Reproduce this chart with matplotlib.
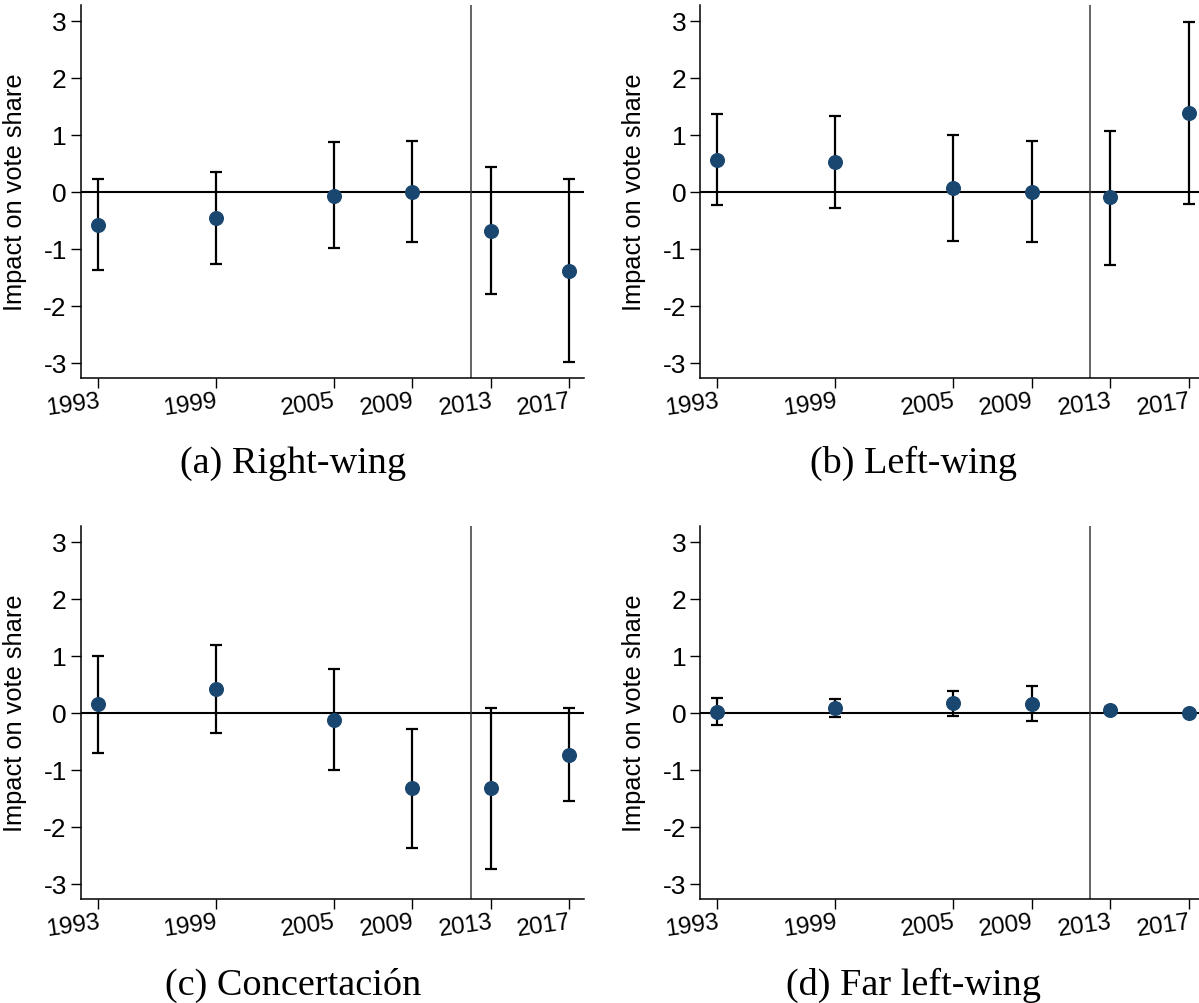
import matplotlib
matplotlib.use("Agg")
import matplotlib.pyplot as plt

plt.rcParams['font.family'] = ['Liberation Sans', 'DejaVu Sans']
plt.rcParams['axes.unicode_minus'] = False

years = [1993, 1999, 2005, 2009, 2013, 2017]
cutoff_year = 2012

# point estimates and 95% CI bounds
right_est = [-0.58, -0.46, -0.07, 0.00, -0.68, -1.39]
right_lo = [-1.37, -1.27, -0.99, -0.89, -1.79, -2.99]
right_hi = [0.23, 0.35, 0.88, 0.89, 0.43, 0.22]

left_est = [0.56, 0.52, 0.06, 0.00, -0.10, 1.38]
left_lo = [-0.24, -0.28, -0.87, -0.89, -1.28, -0.21]
left_hi = [1.37, 1.33, 0.99, 0.89, 1.07, 2.98]

conc_est = [0.15, 0.42, -0.12, -1.32, -1.32, -0.73]
conc_lo = [-0.71, -0.35, -1.01, -2.37, -2.74, -1.55]
conc_hi = [1.00, 1.19, 0.77, -0.28, 0.09, 0.09]

farleft_est = [0.02, 0.08, 0.18, 0.16, 0.06, 0.00]
farleft_lo = [-0.22, -0.07, -0.05, -0.15, 0.02, -0.01]
farleft_hi = [0.26, 0.24, 0.39, 0.48, 0.11, 0.01]

captions = ["(a) Right-wing", "(b) Left-wing", "(c) Concertación", "(d) Far left-wing"]
yticks = [-3, -2, -1, 0, 1, 2, 3]
ylabel = "Impact on vote share"

W, H = 1199, 1004
fig = plt.figure(figsize=(W / 100, H / 100), dpi=100)

# panel boxes in pixels: (left, top, right, bottom)
boxes = [(80.7, 6, 584, 379), (700.1, 6, 1203.4, 379),
         (80.7, 527, 584, 900.3), (700.1, 527, 1203.4, 900.3)]
cap_pos = [(293, 473), (914, 473), (293, 995), (914, 995)]

series = [(right_est, right_lo, right_hi), (left_est, left_lo, left_hi),
          (conc_est, conc_lo, conc_hi), (farleft_est, farleft_lo, farleft_hi)]

for (l, t, r, b), (est, lo, hi), cap, (cx, cy) in zip(boxes, series, captions, cap_pos):
    ax = fig.add_axes([l / W, 1 - b / H, (r - l) / W, (b - t) / H])
    ax.axhline(0, color='black', lw=1.5, zorder=1)
    ax.axvline(cutoff_year, color='#3a3a3a', lw=1.1, zorder=1)
    err = [[e - lo_ for e, lo_ in zip(est, lo)], [hi_ - e for e, hi_ in zip(est, hi)]]
    ax.errorbar(years, est, yerr=err, fmt='none', ecolor='black',
                elinewidth=1.6, capsize=4.2, capthick=1.6, zorder=2)
    ax.plot(years, est, 'o', color='#1a476f', markersize=9.8, zorder=3)

    ax.set_xlim(1992.13, 2017.75)
    ax.set_ylim(-3.27, 3.28)
    ax.set_yticks(yticks)
    ax.set_xticks(years)
    ax.set_xticklabels([str(y) for y in years], rotation=8, ha='right',
                       va='top', rotation_mode='anchor')
    ax.tick_params(axis='both', labelsize=17.5, length=7, width=1, color='black')
    ax.tick_params(axis='y', labelsize=19, pad=3)
    ax.tick_params(axis='x', pad=1.5)
    for s in ['top', 'right']:
        ax.spines[s].set_visible(False)
    for s in ['left', 'bottom']:
        ax.spines[s].set_linewidth(1.1)
    ax.set_ylabel(ylabel, fontsize=18.3)
    ax.yaxis.set_label_coords(-0.107, 0.5)

    fig.text(cx / W, 1 - cy / H, cap, ha='center', va='baseline',
             fontsize=27.5, family=['Liberation Serif', 'DejaVu Serif'])

fig.savefig("out.png", dpi=100)
